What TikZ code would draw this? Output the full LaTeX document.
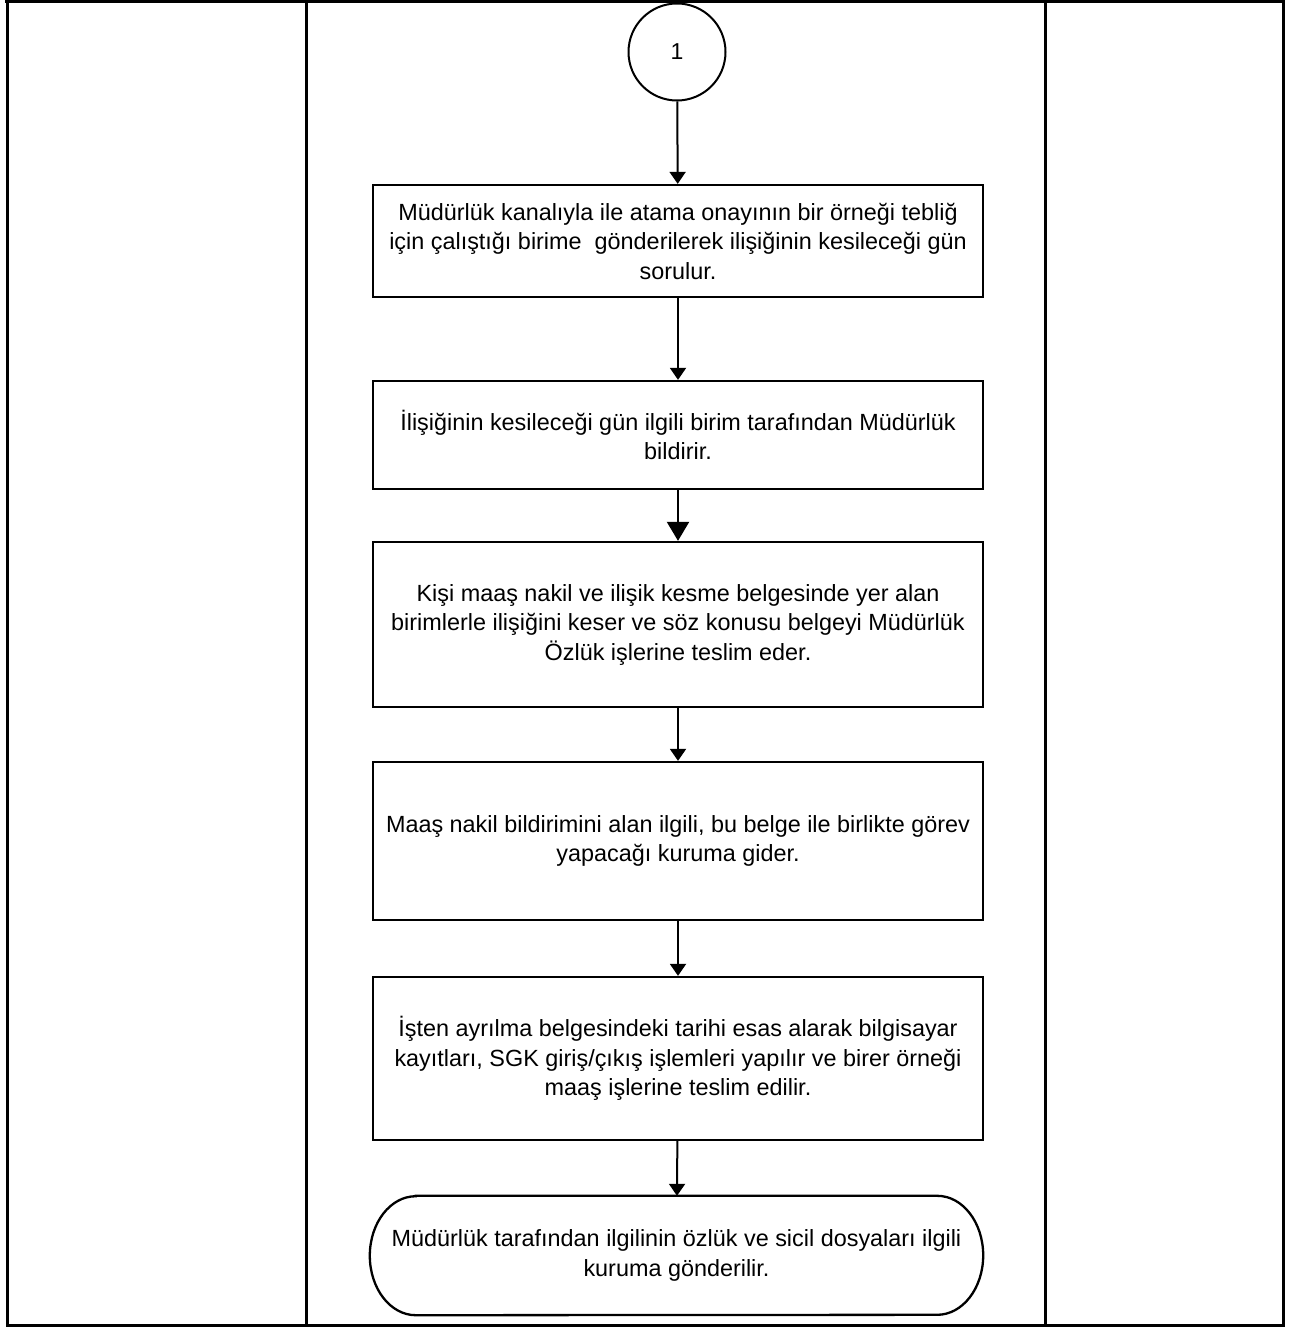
\documentclass[tikz,border=0pt]{standalone}
\usepackage{fontspec}
\setmainfont{Liberation Sans}
\usetikzlibrary{arrows.meta,calc}
\begin{document}
\begin{tikzpicture}[x=1pt,y=-1pt,
  txt/.style={font=\fontsize{23.4}{29.5}\selectfont},
  stepbox/.style={draw,line width=2.3pt,rectangle,minimum width=610pt,align=center,
    inner sep=0pt,txt},
  conn/.style={line width=2pt,-{Triangle[width=16pt,length=12pt]}},
  bigconn/.style={line width=2.2pt,-{Triangle[width=22pt,length=19pt]}},
  frame/.style={line width=3pt}]
\useasboundingbox (0,0) rectangle (1295,1327);
% frame and lanes
\draw[frame] (7,1.5) rectangle (1283,1325.5);
\draw[line width=4pt] (5,1.5) -- (1285,1.5);
\draw[frame] (306,0) -- (306,1327);
\draw[frame] (1045,0) -- (1045,1327);
% nodes
\node[draw,circle,line width=2pt,minimum size=97pt,inner sep=0pt,font=\fontsize{23}{26}\selectfont] (c1) at (677,52) {1};
\node[stepbox,minimum height=112pt] (b1) at (678,241)
 {Müdürlük kanalıyla ile atama onayının bir örneği tebliğ\\için çalıştığı birime\ \ gönderilerek ilişiğinin kesileceği gün\\sorulur.};
\node[stepbox,minimum height=108pt] (b2) at (678,435)
 {İlişiğinin kesileceği gün ilgili birim tarafından Müdürlük\\bildirir.};
\node[stepbox,minimum height=165pt] (b3) at (678,624.5)
 {Kişi maaş nakil ve ilişik kesme belgesinde yer alan\\birimlerle ilişiğini keser ve söz konusu belgeyi Müdürlük\\Özlük işlerine teslim eder.};
\node[stepbox,minimum height=158pt] (b4) at (678,841)
 {Maaş nakil bildirimini alan ilgili, bu belge ile birlikte görev\\yapacağı kuruma gider.};
\node[stepbox,minimum height=163pt] (b5) at (678,1058.5)
 {İşten ayrılma belgesindeki tarihi esas alarak bilgisayar\\kayıtları, SGK giriş/çıkış işlemleri yapılır ve birer örneği\\maaş işlerine teslim edilir.};
\node[rectangle,minimum width=613pt,minimum height=119pt,align=center,inner sep=0pt,txt] (t) at (676.5,1255.5)
 {Müdürlük tarafından ilgilinin özlük ve sicil dosyaları ilgili\\kuruma gönderilir.};
\draw[line width=2.3pt] ($(t.north west)+(46,0)$) -- ($(t.north east)+(-46,0)$)
  arc[start angle=90,end angle=-90,x radius=46,y radius=-59.5]
  -- ($(t.south west)+(46,0)$)
  arc[start angle=270,end angle=90,x radius=46,y radius=-59.5] -- cycle;
% connectors
\draw[conn] (c1) -- (b1);
\draw[conn] (b1) -- (b2);
\draw[bigconn] (b2) -- (b3);
\draw[conn] (b3) -- (b4);
\draw[conn] (b4) -- (b5);
\draw[conn] (b5) -- (t);
\end{tikzpicture}
\end{document}
